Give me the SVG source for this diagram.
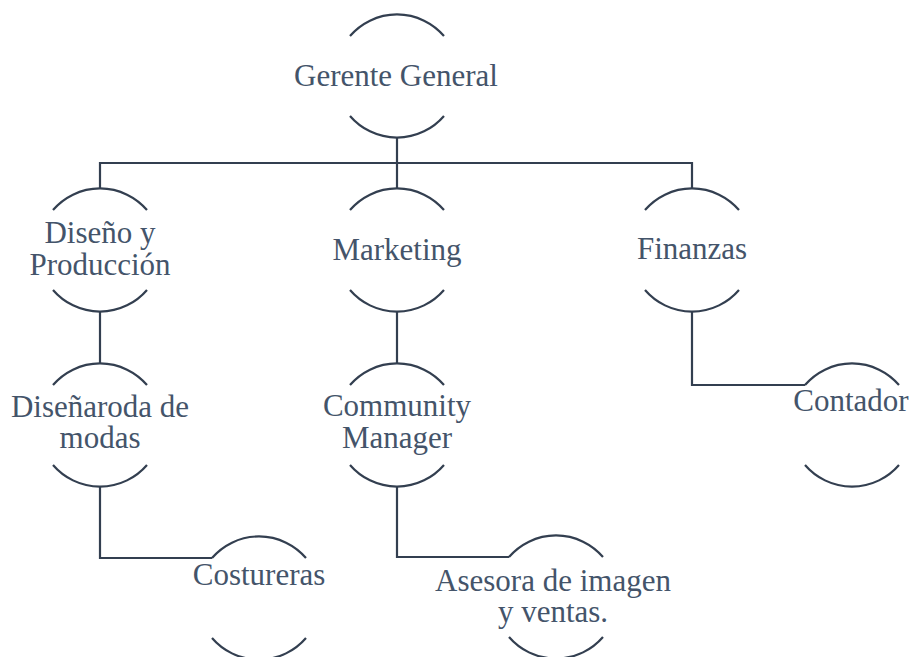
<svg xmlns="http://www.w3.org/2000/svg" width="912" height="657" viewBox="0 0 912 657">
<style>
.arc{fill:none;stroke:#333F50;stroke-width:2.2}
.con{fill:none;stroke:#333F50;stroke-width:2.2}
text{font-family:"Liberation Serif","Times New Roman",serif;font-size:31px;fill:#44546A;text-anchor:middle}
</style>
<rect width="912" height="657" fill="#FFFFFF"/>
<g id="connectors">
<path class="con" d="M100 188 V163 H692 V188"/>
<path class="con" d="M397 138 V188"/>
<path class="con" d="M100 312 V363"/>
<path class="con" d="M397 312 V363"/>
<path class="con" d="M692 312 V385 H805"/>
<path class="con" d="M100 487 V558 H212"/>
<path class="con" d="M397 487 V557 H509"/>
</g>
<g id="gerente">
<path class="arc" d="M350 36 A62 62 0 0 1 444 36"/>
<path class="arc" d="M350 116 A62 62 0 0 0 444 116"/>
<text x="396" y="86">Gerente General</text>
</g>
<g id="diseno">
<path class="arc" d="M53 210 A62 62 0 0 1 147 210"/>
<path class="arc" d="M53 290 A62 62 0 0 0 147 290"/>
<text x="100" y="243">Diseño y</text>
<text x="100" y="275">Producción</text>
</g>
<g id="marketing">
<path class="arc" d="M350 210 A62 62 0 0 1 444 210"/>
<path class="arc" d="M350 290 A62 62 0 0 0 444 290"/>
<text x="397" y="260">Marketing</text>
</g>
<g id="finanzas">
<path class="arc" d="M645 210 A62 62 0 0 1 739 210"/>
<path class="arc" d="M645 290 A62 62 0 0 0 739 290"/>
<text x="692" y="259">Finanzas</text>
</g>
<g id="disenadora">
<path class="arc" d="M53 385 A62 62 0 0 1 147 385"/>
<path class="arc" d="M53 465 A62 62 0 0 0 147 465"/>
<text x="100" y="417">Diseñaroda de</text>
<text x="100" y="448">modas</text>
</g>
<g id="community">
<path class="arc" d="M350 385 A62 62 0 0 1 444 385"/>
<path class="arc" d="M350 465 A62 62 0 0 0 444 465"/>
<text x="397" y="416">Community</text>
<text x="397" y="448">Manager</text>
</g>
<g id="contador">
<path class="arc" d="M805 385 A62 62 0 0 1 899 385"/>
<path class="arc" d="M805 465 A62 62 0 0 0 899 465"/>
<text x="851" y="411">Contador</text>
</g>
<g id="costureras">
<path class="arc" d="M212 558 A62 62 0 0 1 306 558"/>
<path class="arc" d="M212 638 A62 62 0 0 0 306 638"/>
<text x="259" y="585">Costureras</text>
</g>
<g id="asesora">
<path class="arc" d="M509 557 A62 62 0 0 1 603 557"/>
<path class="arc" d="M509 637 A62 62 0 0 0 603 637"/>
<text x="553" y="591">Asesora de imagen</text>
<text x="553" y="622">y ventas.</text>
</g>
</svg>
